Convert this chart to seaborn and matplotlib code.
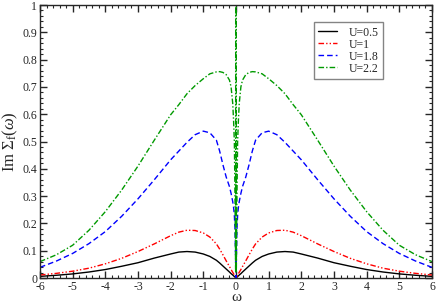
import numpy as np
import pandas as pd
import matplotlib
matplotlib.use("Agg")
import matplotlib.pyplot as plt
import seaborn as sns
from matplotlib.ticker import MultipleLocator, FormatStrFormatter

# positive half of the frequency grid (curves are symmetric in omega)
omega_pos = [0.0, 0.01, 0.03, 0.05, 0.075, 0.1, 0.15, 0.2, 0.3, 0.4, 0.5, 0.6, 0.8,
             1.0, 1.25, 1.5, 1.75, 2.0, 2.5, 3.0, 3.5, 4.0, 4.5, 5.0, 5.5, 6.0]

u05 = [0.0, 0.001, 0.0033, 0.0055, 0.008, 0.011, 0.016, 0.022, 0.033, 0.044, 0.055, 0.065, 0.079,
       0.088, 0.095, 0.097, 0.095, 0.088, 0.073, 0.056, 0.043, 0.031, 0.022, 0.015, 0.01, 0.006]
u1 = [0.0, 0.002, 0.006, 0.01, 0.016, 0.021, 0.031, 0.042, 0.063, 0.085, 0.106, 0.125, 0.150,
      0.165, 0.174, 0.175, 0.168, 0.155, 0.125, 0.097, 0.072, 0.052, 0.036, 0.025, 0.017, 0.011]
u18 = [0.0, 0.06, 0.18, 0.23, 0.26, 0.28, 0.31, 0.335, 0.37, 0.415, 0.465, 0.505, 0.532,
       0.538, 0.525, 0.497, 0.465, 0.433, 0.36, 0.29, 0.226, 0.17, 0.126, 0.09, 0.062, 0.039]
u22 = [10.0, 0.02, 0.3, 0.5, 0.58, 0.64, 0.70, 0.725, 0.745, 0.753, 0.756, 0.755, 0.748,
       0.73, 0.705, 0.675, 0.635, 0.598, 0.505, 0.41, 0.322, 0.243, 0.175, 0.12, 0.085, 0.06]

labels = ["U=0.5", "U=1", "U=1.8", "U=2.2"]
colors = ["black", "red", "blue", "#009a00"]
dashes = ["-", (0, (4, 1.5, 1, 1.5, 1, 1.5)), (0, (4, 2.2)), (0, (4, 1.5, 1, 1.5))]


def mirror(vals):
    v = np.asarray(vals)
    return np.concatenate([v[:0:-1], v])


omega = np.concatenate([-np.asarray(omega_pos)[:0:-1], np.asarray(omega_pos)])

sns.set_style("ticks")
plt.rcParams["font.family"] = ["Liberation Serif", "DejaVu Serif"]
plt.rcParams["mathtext.fontset"] = "custom"
plt.rcParams["mathtext.rm"] = "Liberation Serif"
plt.rcParams["mathtext.it"] = "Liberation Serif:italic"
plt.rcParams["axes.unicode_minus"] = False

fig = plt.figure(figsize=(4.36, 3.04), dpi=100)
ax = fig.add_axes([0.0917, 0.0855, 0.8991, 0.898])

for vals, lab, col, ls in zip([u05, u1, u18, u22], labels, colors, dashes):
    df = pd.DataFrame({"w": omega, "s": mirror(vals)})
    sns.lineplot(data=df, x="w", y="s", color=col, linestyle=ls, linewidth=1.0,
                 label=lab, estimator=None, sort=False, ax=ax)

ax.set_xlim(-6, 6)
ax.set_ylim(0, 1)
ax.xaxis.set_major_locator(MultipleLocator(1))
ax.xaxis.set_minor_locator(MultipleLocator(0.2))
ax.yaxis.set_major_locator(MultipleLocator(0.1))
ax.yaxis.set_minor_locator(MultipleLocator(0.02))
ax.yaxis.set_major_formatter(FormatStrFormatter("%g"))
ax.tick_params(which="both", direction="in", top=True, right=True, labelsize=8.5, pad=2)
ax.tick_params(which="major", length=5, width=1)
ax.tick_params(which="minor", length=2.5, width=0.8)
for sp in ax.spines.values():
    sp.set_linewidth(1.0)

ax.set_xlabel("ω", fontsize=11, labelpad=-1)
ax.set_ylabel(r"Im $\Sigma_{\mathrm{f}}(\omega)$", fontsize=12, labelpad=2)

leg = ax.legend(loc="upper left", bbox_to_anchor=(0.699, 0.936), fontsize=8.5,
                frameon=True, fancybox=False, handlelength=1.6, handletextpad=1.0,
                borderpad=0.35, labelspacing=0.0, borderaxespad=0)
leg.get_frame().set_edgecolor("#666666")
leg.get_frame().set_linewidth(1.0)

fig.savefig("out.png", dpi=100)
